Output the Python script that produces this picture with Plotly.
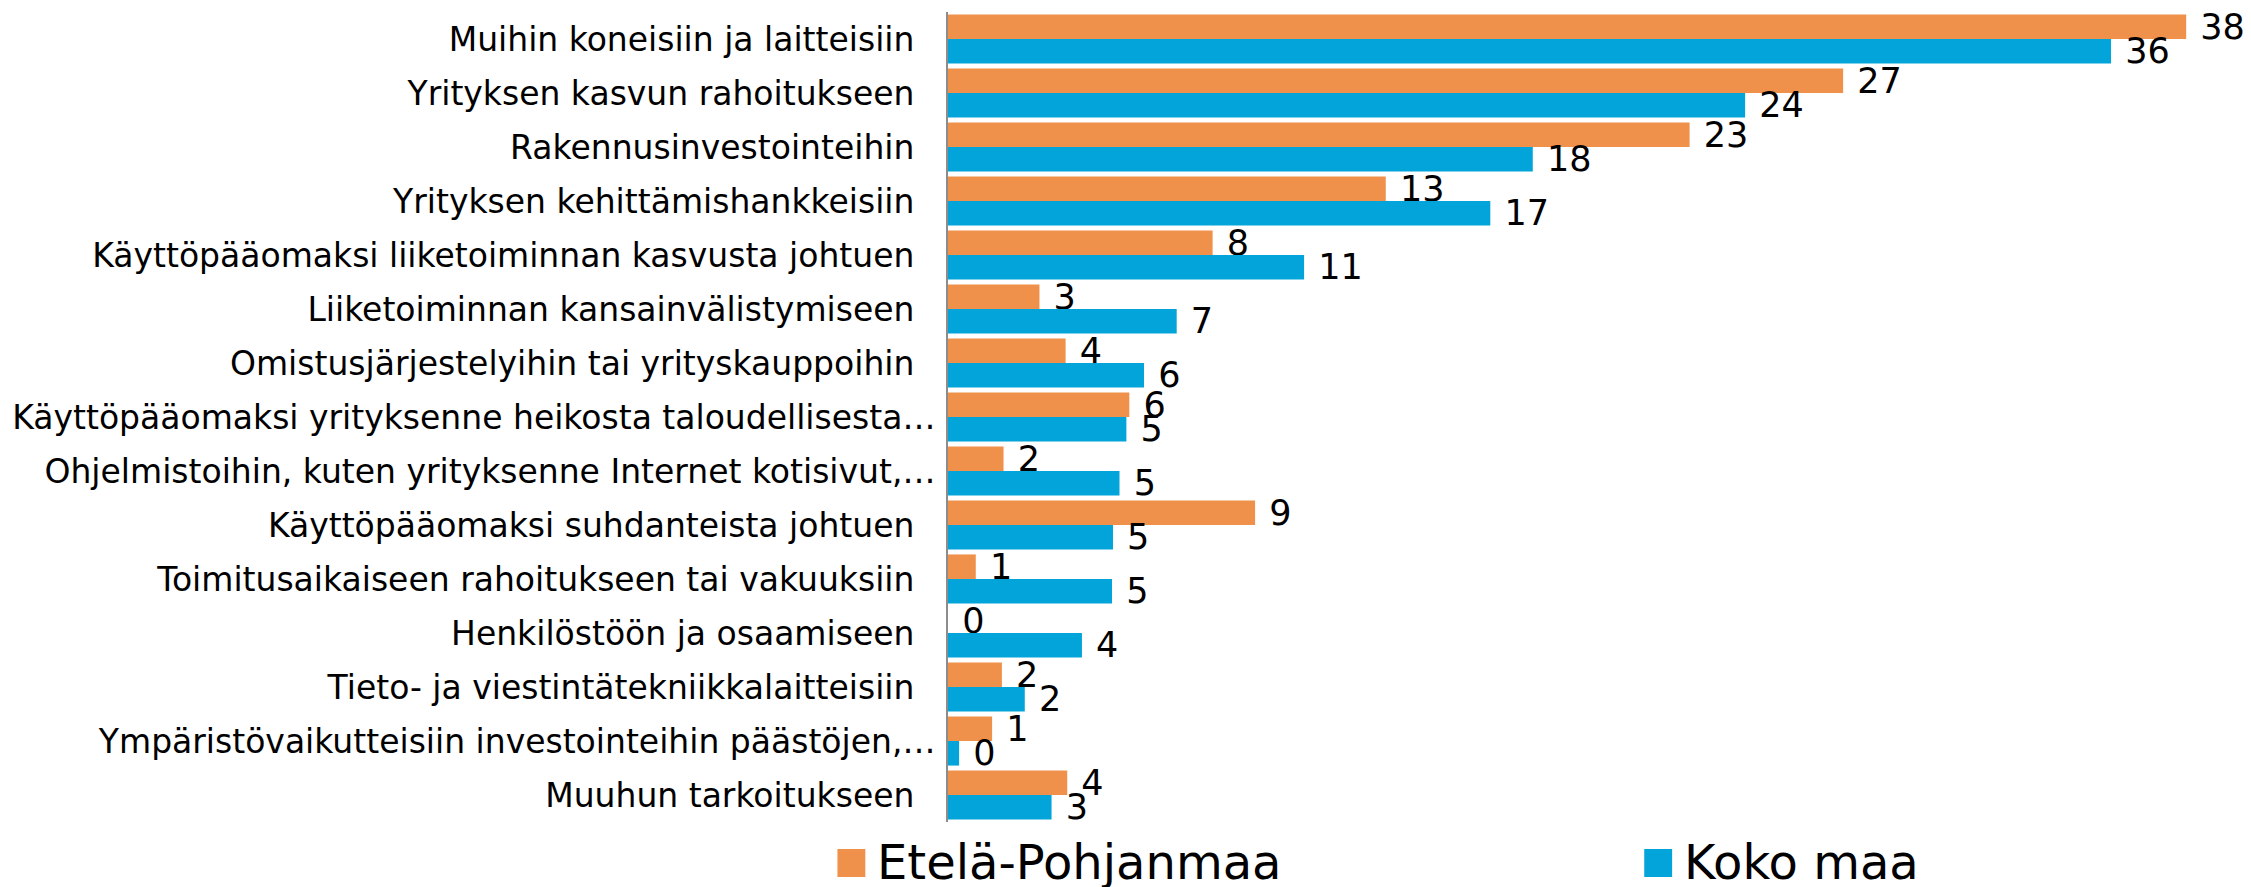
import plotly.graph_objects as go

CATEGORIES = [
    "Muihin koneisiin ja laitteisiin",
    "Yrityksen kasvun rahoitukseen",
    "Rakennusinvestointeihin",
    "Yrityksen kehittämishankkeisiin",
    "Käyttöpääomaksi liiketoiminnan kasvusta johtuen",
    "Liiketoiminnan kansainvälistymiseen",
    "Omistusjärjestelyihin tai yrityskauppoihin",
    "Käyttöpääomaksi yrityksenne heikosta taloudellisesta…",
    "Ohjelmistoihin, kuten yrityksenne Internet kotisivut,…",
    "Käyttöpääomaksi suhdanteista johtuen",
    "Toimitusaikaiseen rahoitukseen tai vakuuksiin",
    "Henkilöstöön ja osaamiseen",
    "Tieto- ja viestintätekniikkalaitteisiin",
    "Ympäristövaikutteisiin investointeihin päästöjen,…",
    "Muuhun tarkoitukseen",
]

# Shares (%); labels show them rounded.
ETELA_POHJANMAA = [37.9, 27.4, 22.7, 13.4, 8.1, 2.8, 3.6, 5.55, 1.7, 9.4, 0.85, 0, 1.65, 1.35, 3.65]
KOKO_MAA = [35.6, 24.4, 17.9, 16.6, 10.9, 7.0, 6.0, 5.46, 5.25, 5.05, 5.02, 4.1, 2.35, 0.34, 3.17]

SERIES_NAMES = ["Etelä-Pohjanmaa", "Koko maa"]
COLORS = ["#F0914B", "#02A4DA"]

FONT = "DejaVu Sans"
BODY = 8  # default page margin around the plot div
W, H = 2251 - BODY, 887 - BODY
# pixel frame of the plot area, relative to the figure
PLOT_L, PLOT_R, PLOT_T, PLOT_B = 943 - BODY, 2211 - BODY, 12 - BODY, 822 - BODY
X_MAX = 38.66


def px_to_paper(px, py):
    """Page pixel -> paper coords of the figure."""
    px, py = px - BODY, py - BODY
    return ((px - PLOT_L) / (PLOT_R - PLOT_L), (PLOT_B - py) / (PLOT_B - PLOT_T))


# Excel pushes the truncated "…" labels a little closer to the axis.
ticktext = [c if c.endswith("…") else c + "\u00a0\u00a0" for c in CATEGORIES]

fig = go.Figure()
for name, vals, color in zip(SERIES_NAMES, [ETELA_POHJANMAA, KOKO_MAA], COLORS):
    fig.add_trace(go.Bar(
        y=CATEGORIES, x=vals, orientation="h", name=name,
        marker=dict(color=color, line=dict(width=0)),
        texttemplate="\u00a0%{x:.0f}", textposition="outside",
        textfont=dict(family=FONT, size=35, color="#000000"),
        constraintext="none", cliponaxis=False, showlegend=False,
        hovertemplate=name + "<br>%{y}: %{x:.1f}<extra></extra>"))

# Hand-drawn legend: big square keys like the original.
legend_x = [832, 1642]
for name, color, lx in zip(SERIES_NAMES, COLORS, legend_x):
    x0, y0 = px_to_paper(lx, 877)
    x1, y1 = px_to_paper(lx + 28, 849)
    fig.add_shape(type="rect", xref="paper", yref="paper", x0=x0, x1=x1, y0=y0, y1=y1,
                  fillcolor=color, line=dict(width=0))
    tx, ty = px_to_paper(lx + 38, 862)
    fig.add_annotation(xref="paper", yref="paper", x=tx, y=ty, text=name, showarrow=False,
                       xanchor="left", yanchor="middle",
                       font=dict(family=FONT, size=48, color="#000000"))

fig.update_layout(
    width=W, height=H, barmode="group", bargap=0.09, bargroupgap=0,
    margin=dict(l=PLOT_L, r=W - PLOT_R, t=PLOT_T, b=H - PLOT_B, pad=0),
    paper_bgcolor="white", plot_bgcolor="white",
    font=dict(family=FONT, color="#000000"),
    xaxis=dict(range=[0, X_MAX], visible=False, fixedrange=True),
    yaxis=dict(autorange="reversed", tickmode="array", tickvals=CATEGORIES, ticktext=ticktext,
               ticks="", ticklabelstandoff=4, showgrid=False, zeroline=False,
               showline=True, linecolor="#8C8C8C", linewidth=2,
               tickfont=dict(family=FONT, size=33, color="#000000")),
)

fig.write_html("out.html")
